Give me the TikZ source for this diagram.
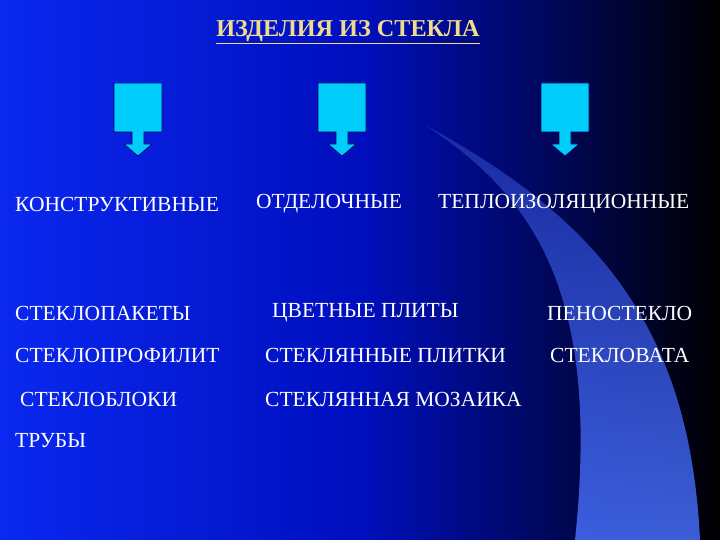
\documentclass[tikz,border=0pt]{standalone}
\usepackage{fontspec}
\setmainfont{Liberation Serif}
\begin{document}
\begin{tikzpicture}[x=1pt,y=-1pt,
  lbl/.style={anchor=west,text=white,font=\fontsize{21.5}{24}\selectfont,inner sep=0pt},
  barrow/.style={fill={rgb,255:red,0;green,205;blue,250},draw=blue!40!black,line width=0.6pt}]
\useasboundingbox (0,0) rectangle (720,540);
\shade[left color={rgb,255:red,10;green,40;blue,240}, right color=black, middle color={rgb,255:red,0;green,15;blue,190}] (0,0) rectangle (720,540);
\shade[top color={rgb,255:red,30;green,50;blue,170}, bottom color={rgb,255:red,70;green,110;blue,250}, opacity=0.85]
  (425,125) .. controls (540,200) and (600,300) .. (575,540) -- (700,540) .. controls (690,330) and (600,220) .. (425,125) -- cycle;
\node[anchor=center,text={rgb,255:red,240;green,220;blue,140},font=\fontsize{24.2}{27}\selectfont\bfseries,inner sep=0pt] (title) at (348,32) {\underline{ИЗДЕЛИЯ ИЗ СТЕКЛА}};
\foreach \n/\x in {a/114,b/318,c/541}{
  \path[barrow] (\x,83) -- (\x+48,83) -- (\x+48,132) -- (\x+30,132) -- (\x+30,144) -- (\x+38,144) -- (\x+24,156) -- (\x+10,144) -- (\x+18,144) -- (\x+18,132) -- (\x,132) -- cycle;
  \coordinate (arr\n) at (\x+24,156);
}
\node[lbl] (k1) at (15,204) {КОНСТРУКТИВНЫЕ};
\node[lbl] (k2) at (256,204) {ОТДЕЛОЧНЫЕ};
\node[lbl] (k3) at (438,204) {ТЕПЛОИЗОЛЯЦИОННЫЕ};
\node[lbl] (s1) at (15,313) {СТЕКЛОПАКЕТЫ};
\node[lbl] (s2) at (15,355) {СТЕКЛОПРОФИЛИТ};
\node[lbl] (s3) at (20,399) {СТЕКЛОБЛОКИ};
\node[lbl] (s4) at (15,441) {ТРУБЫ};
\node[lbl] (o1) at (272,313) {ЦВЕТНЫЕ ПЛИТЫ};
\node[lbl] (o2) at (265,355) {СТЕКЛЯННЫЕ ПЛИТКИ};
\node[lbl] (o3) at (265,399) {СТЕКЛЯННАЯ МОЗАИКА};
\node[lbl] (t1) at (547,313) {ПЕНОСТЕКЛО};
\node[lbl] (t2) at (550,355) {СТЕКЛОВАТА};
\end{tikzpicture}
\end{document}
